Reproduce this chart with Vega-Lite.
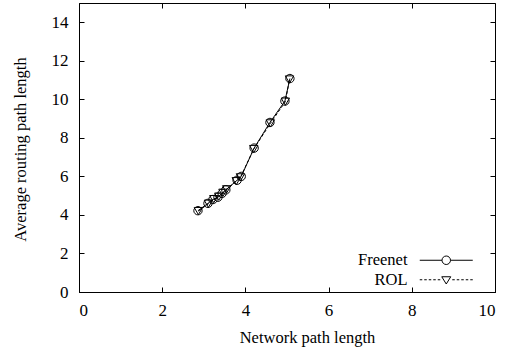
{
  "$schema": "https://vega.github.io/schema/vega-lite/v6.json",
  "autosize": "none",
  "width": 416,
  "height": 289,
  "padding": {"left": 79, "top": 3, "right": 12, "bottom": 59},
  "background": "white",
  "config": {
    "font": "Liberation Serif",
    "view": {"stroke": "black", "strokeWidth": 1},
    "axis": {
      "domainColor": "black", "tickColor": "black", "grid": false,
      "labelFont": "Liberation Serif", "labelFontSize": 17, "labelColor": "black",
      "titleFont": "Liberation Serif", "titleFontSize": 16.5, "titleFontWeight": "normal", "titleColor": "black",
      "tickSize": -5
    }
  },
  "data": {"values": [
    {"series": "Freenet", "net": 2.86, "route": 4.22},
    {"series": "Freenet", "net": 3.10, "route": 4.60},
    {"series": "Freenet", "net": 3.22, "route": 4.80},
    {"series": "Freenet", "net": 3.34, "route": 4.92},
    {"series": "Freenet", "net": 3.44, "route": 5.12},
    {"series": "Freenet", "net": 3.53, "route": 5.30},
    {"series": "Freenet", "net": 3.80, "route": 5.80},
    {"series": "Freenet", "net": 3.90, "route": 6.00},
    {"series": "Freenet", "net": 4.21, "route": 7.47},
    {"series": "Freenet", "net": 4.59, "route": 8.80},
    {"series": "Freenet", "net": 4.95, "route": 9.91},
    {"series": "Freenet", "net": 5.07, "route": 11.08},
    {"series": "ROL", "net": 2.87, "route": 4.20},
    {"series": "ROL", "net": 3.11, "route": 4.58},
    {"series": "ROL", "net": 3.24, "route": 4.82},
    {"series": "ROL", "net": 3.36, "route": 4.95},
    {"series": "ROL", "net": 3.46, "route": 5.15},
    {"series": "ROL", "net": 3.55, "route": 5.33},
    {"series": "ROL", "net": 3.78, "route": 5.75},
    {"series": "ROL", "net": 3.88, "route": 5.95},
    {"series": "ROL", "net": 4.20, "route": 7.42},
    {"series": "ROL", "net": 4.60, "route": 8.75},
    {"series": "ROL", "net": 4.96, "route": 9.88},
    {"series": "ROL", "net": 5.06, "route": 11.03}
  ]},
  "resolve": {"axis": {"x": "independent", "y": "independent"}, "scale": {"shape": "independent"}},
  "layer": [
    {
      "transform": [{"filter": "datum.series === 'Freenet'"}],
      "mark": {"type": "line", "color": "black", "strokeWidth": 1},
      "encoding": {
        "x": {"field": "net", "type": "quantitative", "scale": {"domain": [0, 10], "nice": false},
              "axis": {"title": "Network path length", "values": [0, 2, 4, 6, 8, 10], "labelPadding": 15,
                       "titleX": 228, "titleY": 50, "titleBaseline": "alphabetic", "titleAlign": "center"}},
        "y": {"field": "route", "type": "quantitative", "scale": {"domain": [0, 15], "nice": false},
              "axis": {"title": "Average routing path length", "values": [0, 2, 4, 6, 8, 10, 12, 14], "labelPadding": 16,
                       "titleX": -54, "titleY": 146, "titleBaseline": "alphabetic", "titleAlign": "center", "titleAngle": -90}}
      }
    },
    {
      "transform": [{"filter": "datum.series === 'ROL'"}],
      "mark": {"type": "line", "color": "black", "strokeWidth": 1, "strokeDash": [3, 2]},
      "encoding": {
        "x": {"field": "net", "type": "quantitative", "axis": null},
        "y": {"field": "route", "type": "quantitative", "axis": null}
      }
    },
    {
      "mark": {"type": "point", "filled": false, "color": "black", "strokeWidth": 1, "size": 70, "opacity": 1},
      "encoding": {
        "x": {"field": "net", "type": "quantitative",
              "axis": {"orient": "top", "labels": false, "title": null, "values": [0, 2, 4, 6, 8, 10], "domain": false}},
        "y": {"field": "route", "type": "quantitative",
              "axis": {"orient": "right", "labels": false, "title": null, "values": [0, 2, 4, 6, 8, 10, 12, 14], "domain": false}},
        "shape": {"field": "series", "type": "nominal",
                  "scale": {"domain": ["Freenet", "ROL"], "range": ["circle", "triangle-down"]},
                  "legend": null}
      }
    },
    {
      "transform": [{"filter": "false"}],
      "mark": {"type": "point", "filled": false, "color": "black", "strokeWidth": 1, "opacity": 1},
      "encoding": {
        "x": {"field": "net", "type": "quantitative", "axis": null},
        "y": {"field": "route", "type": "quantitative", "axis": null},
        "shape": {"field": "series", "type": "nominal",
                  "scale": {"domain": ["Freenet", "ROL"],
                            "range": ["M-5.3,0L-0.85,0M0.85,0L5.3,0M-0.85,0A0.85,0.85 0 1,1 0.85,0A0.85,0.85 0 1,1 -0.85,0",
                                      "M-5.3,0L-4.8,0M-4.4,0L-3.9,0M-3.5,0L-3,0M-2.6,0L-2.1,0M-1.7,0L-1.2,0M1.2,0L1.7,0M2.1,0L2.6,0M3,0L3.5,0M3.9,0L4.4,0M4.8,0L5.3,0M-0.9,-0.6L0.9,-0.6L0,0.85Z"]},
                  "legend": {
                    "title": null, "orient": "none", "legendX": 359, "legendY": 249,
                    "symbolSize": 100, "symbolStrokeColor": "black", "symbolStrokeWidth": 1, "symbolOpacity": 1,
                    "labelFont": "Liberation Serif", "labelFontSize": 16.5, "labelColor": "black",
                    "labelAlign": "right", "labelOffset": -47, "rowPadding": 2.5, "padding": 0
                  }}
      }
    }
  ]
}
